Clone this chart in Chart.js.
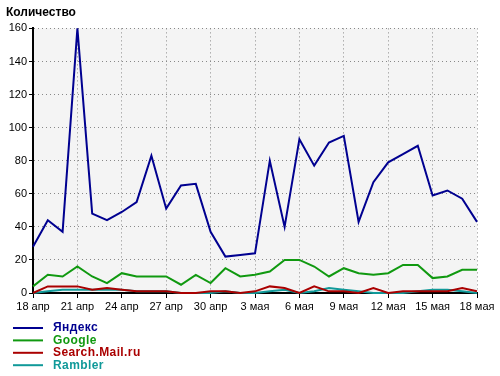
<!DOCTYPE html>
<html>
<head>
<meta charset="utf-8">
<script src="https://cdn.jsdelivr.net/npm/chart.js@4/dist/chart.umd.min.js"></script>
<style>
  html, body { margin: 0; padding: 0; background: #fff; }
</style>
</head>
<body>
<canvas id="visits" width="500" height="376"></canvas>
<script>
const days = [
    '18 апр', '19 апр', '20 апр', '21 апр', '22 апр', '23 апр', '24 апр', '25 апр',
    '26 апр', '27 апр', '28 апр', '29 апр', '30 апр', '1 мая', '2 мая', '3 мая',
    '4 мая', '5 мая', '6 мая', '7 мая', '8 мая', '9 мая', '10 мая', '11 мая',
    '12 мая', '13 мая', '14 мая', '15 мая', '16 мая', '17 мая', '18 мая'
];
const yandex  = [28, 44, 37, 160, 48, 44, 49, 55, 83, 51, 65, 66, 37, 22, 23, 24, 80, 40, 93, 77, 91, 95, 43, 67, 79, 84, 89, 59, 62, 57, 43];
const google  = [4, 11, 10, 16, 10, 6, 12, 10, 10, 10, 5, 11, 6, 15, 10, 11, 13, 20, 20, 16, 10, 15, 12, 11, 12, 17, 17, 9, 10, 14, 14];
const mailru  = [0, 4, 4, 4, 2, 3, 2, 1, 1, 1, 0, 0, 1, 1, 0, 1, 4, 3, 0, 4, 1, 1, 0, 3, 0, 1, 1, 1, 1, 3, 1];
const rambler = [0, 1, 2, 2, 2, 2, 2, 1, 1, 1, 0, 0, 0, 1, 0, 0, 1, 2, 0, 1, 3, 2, 1, 0, 0, 0, 1, 2, 2, 1, 0];
const seriesNames = ['Яндекс', 'Google', 'Search.Mail.ru', 'Rambler'];
const seriesColors = ['#000090', '#109910', '#aa0000', '#109999'];

const FONT = 'Liberation Sans';

// light grey plot area
const plotBg = {
    id: 'plotBg',
    beforeDraw(chart) {
        const a = chart.chartArea;
        const ctx = chart.ctx;
        ctx.save();
        ctx.fillStyle = '#f4f4f4';
        ctx.fillRect(a.left, a.top, a.right - a.left, a.bottom - a.top);
        ctx.restore();
    }
};

// one legend entry per row, under the axis
const stackedLegend = {
    id: 'stackedLegend',
    afterDraw(chart) {
        const ctx = chart.ctx;
        const top = chart.chartArea.bottom + 35;
        ctx.save();
        ctx.font = 'bold 12px "' + FONT + '"';
        ctx.letterSpacing = '0.4px';
        ctx.textBaseline = 'middle';
        chart.data.datasets.forEach((ds, i) => {
            const y = top + i * 12.4;
            ctx.strokeStyle = ds.borderColor;
            ctx.lineWidth = 2;
            ctx.beginPath();
            ctx.moveTo(13, y);
            ctx.lineTo(43, y);
            ctx.stroke();
            ctx.fillStyle = ds.borderColor;
            ctx.fillText(ds.label, 53, y);
        });
        ctx.restore();
    }
};

const datasets = [yandex, google, mailru, rambler].map((values, i) => ({
    label: seriesNames[i],
    data: values,
    borderColor: seriesColors[i],
    backgroundColor: seriesColors[i],
    borderWidth: 2,
    pointRadius: 0,
    tension: 0,
    clip: false
}));

new Chart(document.getElementById('visits'), {
    type: 'line',
    data: { labels: days, datasets: datasets },
    options: {
        responsive: false,
        animation: false,
        devicePixelRatio: 1,
        layout: { padding: { left: 6, right: 23, top: 0, bottom: 63 } },
        plugins: {
            legend: { display: false },
            tooltip: { enabled: false },
            title: {
                display: true,
                text: 'Количество',
                align: 'start',
                color: '#000',
                font: { family: FONT, size: 12, weight: 'bold' },
                padding: { top: 5, bottom: 9 }
            }
        },
        scales: {
            x: {
                offset: false,
                grid: {
                    color: c => c.index % 3 === 0 ? '#888' : 'transparent',
                    tickColor: c => c.index % 3 === 0 ? '#000' : 'transparent',
                    tickLength: 5,
                    lineWidth: 1
                },
                border: { color: '#000', width: 2, dash: [1, 3] },
                ticks: {
                    autoSkip: false,
                    maxRotation: 0,
                    padding: 2,
                    color: '#000',
                    font: { family: FONT, size: 11 },
                    callback: (v, i) => i % 3 === 0 ? days[i] : ''
                },
                afterFit: s => { s.height = 20; }
            },
            y: {
                min: 0,
                max: 160,
                grid: { color: '#888', tickColor: '#000', tickLength: 4, lineWidth: 1 },
                border: { color: '#000', width: 2, dash: [1, 3] },
                ticks: {
                    stepSize: 20,
                    padding: 2,
                    color: '#000',
                    font: { family: FONT, size: 11 }
                },
                afterFit: s => { s.width = 27; }
            }
        }
    },
    plugins: [plotBg, stackedLegend]
});
</script>
</body>
</html>
